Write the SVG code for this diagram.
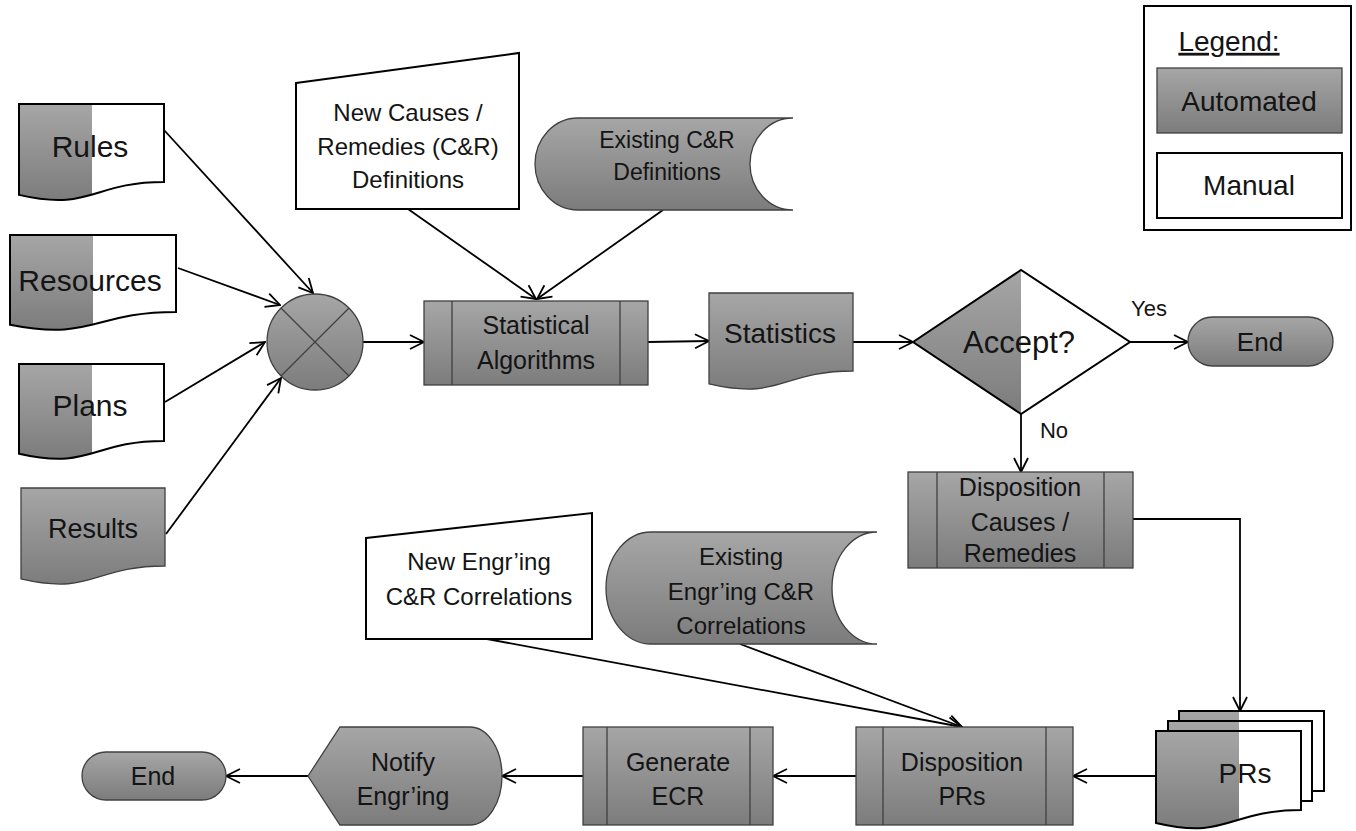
<svg xmlns="http://www.w3.org/2000/svg" width="1356" height="831" viewBox="0 0 1356 831">
<defs>
<linearGradient id="g" x1="0" y1="0" x2="0" y2="1">
<stop offset="0" stop-color="#a6a6a6"/>
<stop offset="1" stop-color="#7c7c7c"/>
</linearGradient>
<clipPath id="cL1"><rect x="0" y="0" width="92" height="831"/></clipPath>
<clipPath id="cL2"><rect x="0" y="0" width="93" height="831"/></clipPath>
<clipPath id="cPR"><rect x="0" y="0" width="1239" height="831"/></clipPath>
<marker id="arr" markerUnits="userSpaceOnUse" markerWidth="17" markerHeight="17" viewBox="0 0 17 17" refX="16" refY="8.5" orient="auto">
<path d="M2,1.5 L16,8.5 L2,15.5" fill="none" stroke="#000" stroke-width="1.8"/>
</marker>
<style>
.auto{fill:url(#g);stroke:#404040;stroke-width:1.3}
.gr{fill:url(#g);stroke:none}
.wh{fill:#fff;stroke:none}
.man{fill:#fff;stroke:#000;stroke-width:2}
.ol{fill:none;stroke:#000;stroke-width:2}
.ln{fill:none;stroke:#404040;stroke-width:1.3}
.c{fill:none;stroke:#000;stroke-width:1.8;marker-end:url(#arr)}
text{font-family:"Liberation Sans",Arial,sans-serif;fill:#141414;text-anchor:middle}
</style>
</defs>
<rect x="0" y="0" width="1356" height="831" fill="#fff"/>

<g id="connectors">
<line class="c" x1="164" y1="130" x2="313" y2="293"/>
<line class="c" x1="178" y1="268" x2="280" y2="305"/>
<line class="c" x1="165" y1="402" x2="265" y2="342"/>
<line class="c" x1="166" y1="534" x2="281" y2="378"/>
<line class="c" x1="363" y1="342" x2="424" y2="342"/>
<line class="c" x1="408" y1="209" x2="536" y2="299"/>
<line class="c" x1="663" y1="210" x2="537" y2="299"/>
<line class="c" x1="648" y1="342" x2="709" y2="341"/>
<line class="c" x1="853" y1="342" x2="913" y2="342"/>
<line class="c" x1="1130" y1="342" x2="1188" y2="342"/>
<line class="c" x1="1021" y1="414" x2="1021" y2="472"/>
<polyline class="c" points="1133,519 1240,519 1240,711"/>
<line class="c" x1="1156" y1="776" x2="1073" y2="776"/>
<line class="c" x1="856" y1="776" x2="773" y2="776"/>
<line class="c" x1="583" y1="776" x2="502" y2="776"/>
<line class="c" x1="308" y1="776" x2="226" y2="776"/>
<line class="c" x1="487" y1="639" x2="962" y2="727"/>
<line class="c" x1="740" y1="644" x2="962" y2="727"/>
<text x="1149" y="315.7" font-size="22">Yes</text>
<text x="1054" y="437.7" font-size="22">No</text>
</g>

<g id="rules">
<path class="wh" d="M19,104 H164 V182 C91.5,182 91.5,211.8 19,194.9 Z"/>
<path class="gr" clip-path="url(#cL1)" d="M19,104 H164 V182 C91.5,182 91.5,211.8 19,194.9 Z"/>
<path class="ol" d="M19,104 H164 V182 C91.5,182 91.5,211.8 19,194.9 Z"/>
<text x="90" y="156.5" font-size="30">Rules</text>
</g>

<g id="resources">
<path class="wh" d="M10,235 H176 V312 C93,312 93,341.3 10,324.7 Z"/>
<path class="gr" clip-path="url(#cL2)" d="M10,235 H176 V312 C93,312 93,341.3 10,324.7 Z"/>
<path class="ol" d="M10,235 H176 V312 C93,312 93,341.3 10,324.7 Z"/>
<text x="90" y="290.5" font-size="30">Resources</text>
</g>

<g id="plans">
<path class="wh" d="M19,364 H164 V441 C91.5,441 91.5,470.3 19,453.7 Z"/>
<path class="gr" clip-path="url(#cL1)" d="M19,364 H164 V441 C91.5,441 91.5,470.3 19,453.7 Z"/>
<path class="ol" d="M19,364 H164 V441 C91.5,441 91.5,470.3 19,453.7 Z"/>
<text x="90" y="415.5" font-size="30">Plans</text>
</g>

<g id="results">
<path class="auto" d="M21,488 H165 V566 C93,566 93,595.8 21,578.9 Z"/>
<text x="93" y="537.5" font-size="27">Results</text>
</g>

<g id="junction">
<circle class="auto" cx="315" cy="342" r="48"/>
<line class="ln" x1="281" y1="308" x2="349" y2="376"/>
<line class="ln" x1="349" y1="308" x2="281" y2="376"/>
</g>

<g id="new-causes">
<polygon class="man" points="296,83 519,53 519,209 296,209"/>
<text x="408" y="121.4" font-size="24">New Causes /</text>
<text x="408" y="155.4" font-size="24">Remedies (C&amp;R)</text>
<text x="408" y="188.4" font-size="24">Definitions</text>
</g>

<g id="existing-cr">
<path class="auto" d="M578,118 H793 A43,46 0 0 0 793,210 H578 A43,46 0 0 1 578,118 Z"/>
<text x="667" y="148" font-size="23">Existing C&amp;R</text>
<text x="667" y="180" font-size="23">Definitions</text>
</g>

<g id="stat-alg">
<rect class="auto" x="424" y="301" width="224" height="84"/>
<line class="ln" x1="452" y1="301" x2="452" y2="385"/>
<line class="ln" x1="620" y1="301" x2="620" y2="385"/>
<text x="536" y="333.8" font-size="25">Statistical</text>
<text x="536" y="368.8" font-size="25">Algorithms</text>
</g>

<g id="statistics">
<path class="auto" d="M709,293 H853 V371 C781,371 781,400.8 709,383.9 Z"/>
<text x="780" y="342.8" font-size="28">Statistics</text>
</g>

<g id="accept">
<polygon class="wh" points="913,342 1021,270 1130,342 1021,414"/>
<polygon class="gr" points="913,342 1021,270 1021,414"/>
<polygon class="ol" points="913,342 1021,270 1130,342 1021,414"/>
<text x="1019" y="352.9" font-size="31">Accept?</text>
</g>

<g id="end-top">
<rect class="auto" x="1188" y="317" width="145" height="49" rx="24.5"/>
<text x="1260" y="351" font-size="26">End</text>
</g>

<g id="legend">
<rect class="ol" x="1144" y="6" width="207" height="224"/>
<text x="1229" y="50.8" font-size="28" text-decoration="underline">Legend:</text>
<rect class="auto" x="1157" y="68" width="185" height="65"/>
<text x="1249" y="110.8" font-size="28">Automated</text>
<rect class="man" x="1157" y="153" width="185" height="65"/>
<text x="1249" y="194.8" font-size="28">Manual</text>
</g>

<g id="disp-cr">
<rect class="auto" x="908" y="472" width="225" height="96"/>
<line class="ln" x1="937" y1="472" x2="937" y2="568"/>
<line class="ln" x1="1104" y1="472" x2="1104" y2="568"/>
<text x="1020" y="495.8" font-size="25">Disposition</text>
<text x="1020" y="530.8" font-size="25">Causes /</text>
<text x="1020" y="561.8" font-size="25">Remedies</text>
</g>

<g id="new-engr">
<polygon class="man" points="366,538 592,513 592,639 366,639"/>
<text x="479" y="570.4" font-size="24">New Engr’ing</text>
<text x="479" y="605.4" font-size="24">C&amp;R Correlations</text>
</g>

<g id="existing-engr">
<path class="auto" d="M651,532 H877 A45,56 0 0 0 877,644 H651 A45,56 0 0 1 651,532 Z"/>
<text x="741" y="565.4" font-size="24">Existing</text>
<text x="741" y="600.4" font-size="24">Engr’ing C&amp;R</text>
<text x="741" y="634.4" font-size="24">Correlations</text>
</g>

<g id="prs">
<rect class="wh" x="1179" y="711" width="145" height="80"/>
<rect class="gr" clip-path="url(#cPR)" x="1179" y="711" width="145" height="80"/>
<rect class="ol" x="1179" y="711" width="145" height="80"/>
<rect class="wh" x="1168" y="721" width="144" height="80"/>
<rect class="gr" clip-path="url(#cPR)" x="1168" y="721" width="144" height="80"/>
<rect class="ol" x="1168" y="721" width="144" height="80"/>
<path class="wh" d="M1156,731 H1301 V810 C1228.5,810 1228.5,840.1 1156,823 Z"/>
<path class="gr" clip-path="url(#cPR)" d="M1156,731 H1301 V810 C1228.5,810 1228.5,840.1 1156,823 Z"/>
<path class="ol" d="M1156,731 H1301 V810 C1228.5,810 1228.5,840.1 1156,823 Z"/>
<text x="1245" y="782.8" font-size="28">PRs</text>
</g>

<g id="disp-prs">
<rect class="auto" x="856" y="727" width="217" height="98"/>
<line class="ln" x1="883" y1="727" x2="883" y2="825"/>
<line class="ln" x1="1046" y1="727" x2="1046" y2="825"/>
<text x="962" y="770.8" font-size="25">Disposition</text>
<text x="962" y="804.8" font-size="25">PRs</text>
</g>

<g id="generate-ecr">
<rect class="auto" x="583" y="727" width="190" height="98"/>
<line class="ln" x1="607" y1="727" x2="607" y2="825"/>
<line class="ln" x1="750" y1="727" x2="750" y2="825"/>
<text x="678" y="770.8" font-size="25">Generate</text>
<text x="678" y="804.8" font-size="25">ECR</text>
</g>

<g id="notify">
<path class="auto" d="M308,776 L340,727 H470 A32,49 0 0 1 470,825 H340 Z"/>
<text x="403" y="770.8" font-size="25">Notify</text>
<text x="403" y="804.8" font-size="25">Engr’ing</text>
</g>

<g id="end-bottom">
<rect class="auto" x="82" y="752" width="144" height="48" rx="24"/>
<text x="153" y="784.8" font-size="25">End</text>
</g>
</svg>
